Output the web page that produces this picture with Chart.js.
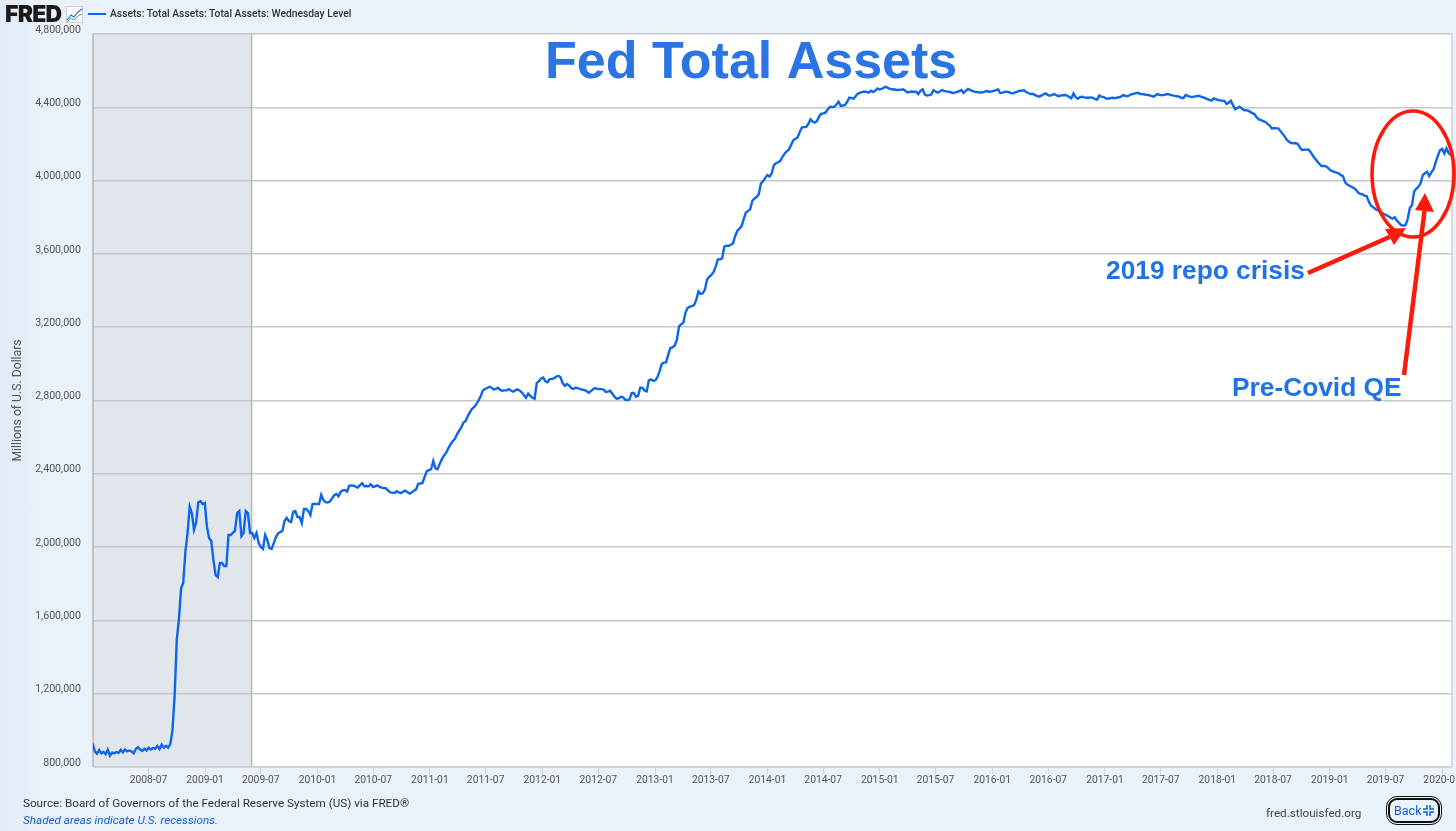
<!DOCTYPE html>
<html>
<head>
<meta charset="utf-8">
<title>Fed Total Assets</title>
<script src="https://cdn.jsdelivr.net/npm/chart.js@4/dist/chart.umd.js"></script>
<style>
	html, body { margin: 0; padding: 0; }
	body { width: 1456px; height: 831px; overflow: hidden; position: relative; font-family: Roboto, sans-serif; background: linear-gradient(90deg, #e0ebf6 0, #e9f1fa 40px, #eaf2fa 100%); }
	canvas { position: absolute; left: 0; top: 0; }
	.abs { position: absolute; white-space: nowrap; }
	#logo { left: 5px; top: 2px; font: 900 23px/24px Inter, sans-serif; letter-spacing: -0.8px; color: #1a1a1a; }
	#logoIcon { left: 66px; top: 6px; }
	#legendLine { left: 88px; top: 13px; width: 18px; height: 2px; background: #0d66e8; }
	#legendText { left: 110px; top: 7px; font-size: 10.3px; line-height: 14px; font-weight: 500; color: #333; }
	#source { left: 23px; top: 795px; font-size: 11.7px; line-height: 16px; color: #333; }
	#shaded { left: 23px; top: 812px; font-size: 11.7px; line-height: 16px; font-style: italic; color: #1362d0; }
	#site { left: 1266px; top: 805px; font-size: 11.7px; line-height: 16px; color: #444; }
	#back { left: 1388px; top: 798px; width: 44px; height: 21px; border: 2px solid #111; border-radius: 9px; outline: 1px solid #111; outline-offset: 1px; font-size: 12.5px; line-height: 21px; padding-left: 4px; color: #1362d0; }
	#back svg { position: absolute; left: 33px; top: 5px; }
</style>
</head>
<body>

<canvas id="fedChart" width="1456" height="831"></canvas>

<div class="abs" id="logo">FRED</div>
<svg class="abs" id="logoIcon" width="17" height="17" viewBox="0 0 17 17">
	<rect x="0.5" y="0.5" width="16" height="16" fill="#fff" stroke="#ccd" />
	<polyline points="1,14 5,9 8,11 12,6 16,3" fill="none" stroke="#1c6fd8" stroke-width="1.2" />
	<polyline points="1,16 5,12 8,14 12,10 16,8" fill="none" stroke="#3aa58a" stroke-width="1" />
</svg>
<div class="abs" id="legendLine"></div>
<div class="abs" id="legendText"></div>
<div class="abs" id="source">Source: Board of Governors of the Federal Reserve System (US) via FRED®</div>
<div class="abs" id="shaded">Shaded areas indicate U.S. recessions.</div>
<div class="abs" id="site">fred.stlouisfed.org</div>
<div class="abs" id="back">Back
	<svg width="11" height="11" viewBox="0 0 11 11" fill="none" stroke="#1362d0" stroke-width="1.5">
		<path d="M4 0v4H0M7 0v4h4M4 11V7H0M7 11V7h4" />
	</svg>
</div>

<script>
var seriesLabel = 'Assets: Total Assets: Total Assets: Wednesday Level';
var firstWeek = '2008-01-02';
var axisStart = '2008-01-03';
var axisEnd = '2020-02-02';
var recessionStart = '2008-01-03';
var recessionEnd = '2009-06-01';

var xTickLabels = ['2008-07', '2009-01', '2009-07', '2010-01', '2010-07', '2011-01', '2011-07', '2012-01', '2012-07', '2013-01', '2013-07', '2014-01', '2014-07', '2015-01', '2015-07', '2016-01', '2016-07', '2017-01', '2017-07', '2018-01', '2018-07', '2019-01', '2019-07', '2020-01'];

// weekly wednesday levels, billions of dollars
var assets2008 = [928, 885, 872, 893, 875, 882, 870, 895, 862, 878, 875, 882, 877, 893, 880, 895, 885, 890, 885, 875, 898, 908, 895, 888, 900, 890, 905, 895, 903, 900, 915, 898, 922, 905, 915, 905, 925, 1000, 1185, 1495, 1605, 1775, 1805, 1975, 2075, 2220, 2185, 2095, 2135, 2245, 2250, 2235, 2240];
var assets2009 = [2110, 2050, 2033, 1930, 1848, 1837, 1913, 1913, 1897, 1897, 2066, 2066, 2077, 2088, 2186, 2197, 2060, 2077, 2197, 2186, 2077, 2077, 2050, 2077, 2022, 2000, 1990, 2066, 2039, 1995, 1990, 2022, 2055, 2075, 2082, 2088, 2142, 2159, 2142, 2137, 2192, 2197, 2164, 2164, 2131, 2208, 2208, 2197, 2175, 2235, 2235, 2235];
var assets2010 = [2235, 2285, 2257, 2245, 2243, 2248, 2265, 2283, 2290, 2278, 2300, 2310, 2312, 2303, 2335, 2337, 2335, 2330, 2325, 2338, 2348, 2332, 2333, 2332, 2343, 2328, 2332, 2337, 2330, 2325, 2322, 2321, 2310, 2299, 2297, 2295, 2305, 2298, 2294, 2303, 2308, 2300, 2292, 2298, 2308, 2315, 2345, 2347, 2350, 2385, 2415, 2420];
var assets2011 = [2425, 2470, 2430, 2425, 2455, 2480, 2500, 2515, 2540, 2560, 2578, 2590, 2615, 2635, 2653, 2680, 2688, 2715, 2735, 2755, 2765, 2780, 2800, 2825, 2855, 2863, 2868, 2875, 2870, 2860, 2863, 2870, 2858, 2853, 2855, 2855, 2862, 2855, 2848, 2855, 2861, 2855, 2845, 2830, 2815, 2838, 2825, 2815, 2810, 2895, 2905, 2920];
var assets2012 = [2925, 2905, 2900, 2917, 2918, 2921, 2930, 2935, 2928, 2895, 2880, 2890, 2882, 2868, 2863, 2870, 2868, 2862, 2860, 2857, 2853, 2842, 2850, 2860, 2868, 2864, 2862, 2862, 2860, 2846, 2848, 2853, 2838, 2822, 2810, 2812, 2820, 2817, 2805, 2802, 2805, 2840, 2842, 2820, 2825, 2870, 2870, 2855, 2850, 2910, 2915, 2908];
var assets2013 = [2910, 2928, 2960, 3000, 3007, 3008, 3050, 3088, 3090, 3100, 3130, 3205, 3215, 3225, 3280, 3305, 3312, 3315, 3320, 3350, 3395, 3382, 3385, 3405, 3460, 3475, 3485, 3500, 3530, 3570, 3570, 3575, 3640, 3645, 3643, 3650, 3657, 3695, 3725, 3738, 3750, 3790, 3825, 3835, 3843, 3890, 3903, 3910, 3925, 3985, 3997, 4015];
var assets2014 = [4030, 4022, 4040, 4085, 4095, 4100, 4108, 4130, 4148, 4160, 4170, 4195, 4220, 4228, 4235, 4265, 4290, 4292, 4293, 4310, 4334, 4322, 4316, 4325, 4350, 4365, 4367, 4372, 4390, 4403, 4402, 4403, 4415, 4430, 4408, 4410, 4413, 4430, 4453, 4450, 4447, 4462, 4475, 4480, 4483, 4486, 4484, 4480, 4490, 4483, 4490, 4503, 4497];
var assets2015 = [4500, 4508, 4512, 4505, 4500, 4497, 4498, 4494, 4496, 4495, 4498, 4490, 4481, 4484, 4486, 4484, 4485, 4472, 4490, 4498, 4470, 4464, 4466, 4470, 4493, 4486, 4480, 4486, 4494, 4490, 4487, 4485, 4482, 4478, 4480, 4484, 4488, 4494, 4478, 4490, 4500, 4495, 4490, 4486, 4483, 4482, 4480, 4482, 4487, 4489, 4484, 4487];
var assets2016 = [4490, 4494, 4498, 4478, 4480, 4484, 4485, 4483, 4477, 4476, 4482, 4486, 4490, 4490, 4494, 4483, 4478, 4472, 4474, 4468, 4462, 4458, 4464, 4470, 4476, 4468, 4463, 4468, 4472, 4466, 4461, 4464, 4466, 4467, 4464, 4456, 4449, 4476, 4455, 4447, 4455, 4458, 4454, 4452, 4452, 4454, 4452, 4445, 4442, 4465, 4458, 4456];
var assets2017 = [4449, 4447, 4450, 4452, 4450, 4452, 4455, 4458, 4467, 4463, 4460, 4466, 4472, 4474, 4477, 4479, 4472, 4472, 4470, 4468, 4466, 4462, 4458, 4465, 4472, 4468, 4466, 4468, 4471, 4472, 4468, 4465, 4462, 4460, 4458, 4452, 4450, 4467, 4462, 4458, 4456, 4458, 4461, 4463, 4458, 4455, 4450, 4445, 4440, 4436, 4448, 4444];
var assets2018 = [4440, 4438, 4436, 4435, 4418, 4425, 4436, 4410, 4390, 4395, 4403, 4395, 4385, 4384, 4382, 4375, 4368, 4362, 4345, 4334, 4330, 4325, 4320, 4310, 4300, 4285, 4287, 4285, 4285, 4270, 4255, 4240, 4222, 4212, 4205, 4203, 4205, 4200, 4182, 4167, 4168, 4169, 4170, 4155, 4137, 4120, 4105, 4092, 4079, 4080, 4079, 4070];
var assets2019 = [4058, 4052, 4048, 4044, 4040, 4030, 4025, 3990, 3978, 3972, 3966, 3960, 3950, 3935, 3928, 3925, 3918, 3915, 3885, 3863, 3855, 3845, 3838, 3833, 3825, 3818, 3812, 3805, 3798, 3792, 3800, 3781, 3770, 3757, 3755, 3757, 3790, 3850, 3865, 3940, 3955, 3966, 3985, 4030, 4040, 4048, 4025, 4045, 4062, 4100, 4135, 4165];
var assets2020 = [4173, 4148, 4176, 4150, 4139];

var assets = [].concat(assets2008, assets2009, assets2010, assets2011, assets2012, assets2013, assets2014, assets2015, assets2016, assets2017, assets2018, assets2019, assets2020);

var DAY = 86400000;
var firstMs = Date.parse(firstWeek);
var points = assets.map(function(v, i) {
	return { x: firstMs + i * 7 * DAY, y: v * 1000 };
});

document.getElementById('legendText').textContent = seriesLabel;

var backdrop = {
	id: 'backdrop',
	beforeDraw: function(chart) {
		var c = chart.ctx, a = chart.chartArea, x = chart.scales.x;
		var r0 = x.getPixelForValue(Date.parse(recessionStart));
		var r1 = x.getPixelForValue(Date.parse(recessionEnd));
		c.save();
		c.fillStyle = '#ffffff';
		c.fillRect(a.left, a.top, a.right - a.left, a.bottom - a.top);
		c.fillStyle = '#e1e5ec';
		c.fillRect(r0, a.top, r1 - r0, a.bottom - a.top);
		c.restore();
	},
	// frame and the recession edge sit over the grid
	beforeDatasetsDraw: function(chart) {
		var c = chart.ctx, a = chart.chartArea, x = chart.scales.x;
		var r1 = x.getPixelForValue(Date.parse(recessionEnd));
		c.save();
		c.strokeStyle = '#b4b6b9';
		c.lineWidth = 1.5;
		c.beginPath();
		c.moveTo(r1, a.top); c.lineTo(r1, a.bottom);
		c.moveTo(a.left, a.top); c.lineTo(a.left, a.bottom);
		c.stroke();
		c.strokeStyle = '#c9d2dc';
		c.beginPath();
		c.moveTo(a.right, a.top); c.lineTo(a.right, a.bottom);
		c.moveTo(a.left, a.bottom); c.lineTo(a.right, a.bottom);
		c.stroke();
		c.restore();
	}
};

function arrow(c, x0, y0, x1, y1, w1x, w1y, w2x, w2y) {
	c.lineWidth = 4.5;
	c.beginPath();
	c.moveTo(x0, y0);
	c.lineTo((w1x + w2x) / 2, (w1y + w2y) / 2);
	c.stroke();
	c.beginPath();
	c.moveTo(x1, y1);
	c.lineTo(w1x, w1y);
	c.lineTo(w2x, w2y);
	c.closePath();
	c.fill();
}

var markup = {
	id: 'markup',
	afterDraw: function(chart) {
		var c = chart.ctx;
		c.save();
		c.textBaseline = 'alphabetic';
		c.textAlign = 'left';
		c.fillStyle = '#2a74e4';
		c.font = 'bold 52px "Liberation Sans"';
		c.fillText('Fed Total Assets', 545, 78);
		c.fillStyle = '#1f73e6';
		c.font = 'bold 26.3px "Liberation Sans"';
		c.fillText('2019 repo crisis', 1106, 279);
		c.fillText('Pre-Covid QE', 1232, 396);

		c.strokeStyle = '#fb1a0c';
		c.fillStyle = '#fb1a0c';
		c.lineWidth = 3.5;
		c.beginPath();
		c.ellipse(1413, 174, 41, 63, 0, 0, Math.PI * 2);
		c.stroke();
		arrow(c, 1308, 273, 1406, 228, 1385, 229, 1394, 245);
		arrow(c, 1404, 375, 1425, 193, 1415, 210, 1434, 212);
		c.restore();
	}
};

var myChart = new Chart(document.getElementById('fedChart').getContext('2d'), {
	type: 'line',
	data: {
		datasets: [{
			label: seriesLabel,
			data: points,
			borderColor: '#0d66e8',
			borderWidth: 2.4,
			pointRadius: 0,
			tension: 0,
			fill: false
		}]
	},
	options: {
		responsive: false,
		animation: false,
		devicePixelRatio: 1,
		layout: { padding: { left: 0, top: 34, right: 4, bottom: 0 } },
		plugins: { legend: { display: false }, tooltip: { enabled: false } },
		scales: {
			x: {
				type: 'linear',
				min: Date.parse(axisStart),
				max: Date.parse(axisEnd),
				afterBuildTicks: function(scale) {
					scale.ticks = xTickLabels.map(function(l) {
						return { value: Date.parse(l + '-01') };
					});
				},
				afterFit: function(scale) {
					scale.paddingLeft = 0;
					scale.paddingRight = 0;
					scale.height = 64;
				},
				grid: { drawOnChartArea: false, drawTicks: true, tickLength: 7, color: '#ccd6e3', lineWidth: 1 },
				border: { display: false },
				ticks: {
					autoSkip: false,
					maxRotation: 0,
					minRotation: 0,
					padding: 0,
					color: '#555',
					font: { family: 'Roboto', size: 10.3 },
					callback: function(value, index) {
						return xTickLabels[index];
					}
				}
			},
			y: {
				min: 800000,
				max: 4800000,
				afterFit: function(scale) {
					scale.width = 93;
				},
				grid: { color: '#c6c8ca', lineWidth: 1.5, drawTicks: false },
				border: { display: false },
				title: {
					display: true,
					text: 'Millions of U.S. Dollars',
					color: '#555',
					padding: { top: 11, bottom: 0 },
					font: { family: 'Roboto', size: 12.2 }
				},
				ticks: {
					stepSize: 400000,
					padding: 12,
					color: '#555',
					font: { family: 'Roboto', size: 10.6, lineHeight: 0.75 },
					// empty second line lifts the label above its grid line
					callback: function(value) {
						return [value.toLocaleString('en-US'), ''];
					}
				}
			}
		}
	},
	plugins: [backdrop, markup]
});
</script>
</body>
</html>
